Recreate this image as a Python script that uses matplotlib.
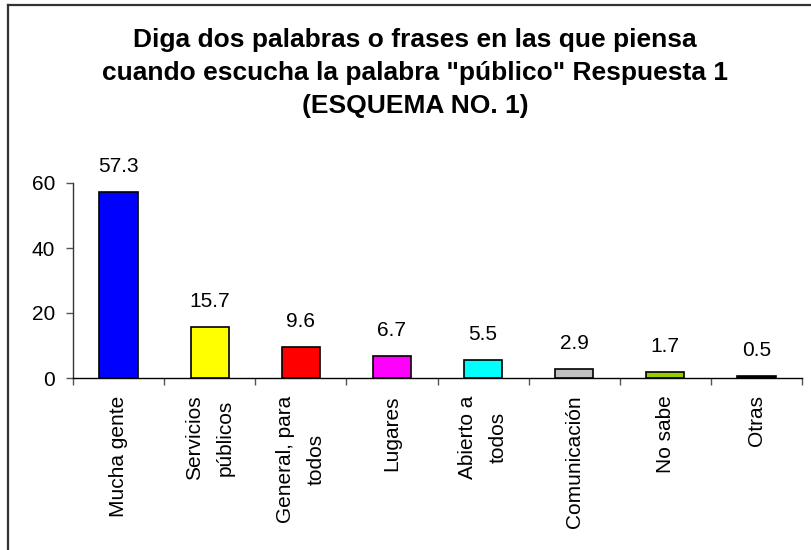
import matplotlib
matplotlib.use("Agg")
import matplotlib.pyplot as plt
from matplotlib.lines import Line2D

categories = ["Mucha gente", "Servicios\npúblicos", "General, para\ntodos", "Lugares",
              "Abierto a\ntodos", "Comunicación", "No sabe", "Otras"]
values = [57.3, 15.7, 9.6, 6.7, 5.5, 2.9, 1.7, 0.5]
value_labels = ["57.3", "15.7", "9.6", "6.7", "5.5", "2.9", "1.7", "0.5"]
colors = ["#0000FF", "#FFFF00", "#FF0000", "#FF00FF", "#00FFFF", "#C0C0C0", "#99CC00", "#000000"]
yticks = [0, 20, 40, 60]
title_lines = ['Diga dos palabras o frases en las que piensa',
               'cuando escucha la palabra "público" Respuesta 1',
               '(ESQUEMA NO. 1)']

W, H = 811, 550
DPI = 100
plt.rcParams['font.family'] = ['Liberation Sans', 'DejaVu Sans']

fig = plt.figure(figsize=(W / DPI, H / DPI), dpi=DPI)
fig.patch.set_facecolor("white")

# axes: left spine x=73, right end x=802, baseline y=378, top (60) y=183
ax = fig.add_axes([73 / W, 1 - 378 / H, (802 - 73) / W, (378 - 183) / H])
ax.set_facecolor("white")

x = list(range(len(categories)))
bars = ax.bar(x, values, width=0.42, color=colors, edgecolor="black", linewidth=1.2, zorder=3)

for xi, v, lab in zip(x, values, value_labels):
    ax.annotate(lab, xy=(xi, v), xytext=(0, 14.4), textcoords="offset points",
                ha="center", va="baseline", fontsize=15, color="black", annotation_clip=False)

ax.set_xlim(-0.5, len(categories) - 0.5)
ax.set_ylim(0, 60)
ax.set_yticks(yticks)
ax.set_yticklabels([str(t) for t in yticks], fontsize=15)

# category ticks at boundaries
ax.set_xticks([i - 0.5 for i in range(len(categories) + 1)])
ax.set_xticklabels([])
ax.tick_params(axis="x", direction="out", length=5, width=1, color="#555555")
ax.tick_params(axis="y", direction="out", length=5, width=1, color="#555555", pad=8)

for xi, cat in zip(x, categories):
    ax.annotate(cat, xy=(xi, 0), xycoords="data", xytext=(0, -12.5), textcoords="offset points",
                rotation=90, ha="center", va="top", multialignment="center",
                fontsize=15, linespacing=1.75, annotation_clip=False)

for s in ["top", "right"]:
    ax.spines[s].set_visible(False)
ax.spines["left"].set_color("#333333")
ax.spines["bottom"].set_color("#000000")
ax.spines["left"].set_linewidth(1)
ax.spines["bottom"].set_linewidth(1)

title_baselines = [47, 80, 113]
for line, yb in zip(title_lines, title_baselines):
    fig.text(415 / W, 1 - yb / H, line, ha="center", va="baseline", fontsize=19,
             fontweight="bold", transform=fig.transFigure)

# outer frame (only left and top edges visible)
fig.add_artist(Line2D([8 / W, 8 / W], [0, 1 - 5 / H], transform=fig.transFigure,
                      color="#333333", linewidth=1.6))
fig.add_artist(Line2D([8 / W, 1], [1 - 5 / H, 1 - 5 / H], transform=fig.transFigure,
                      color="#333333", linewidth=1.6))

fig.savefig("out.png", dpi=DPI, facecolor="white")
